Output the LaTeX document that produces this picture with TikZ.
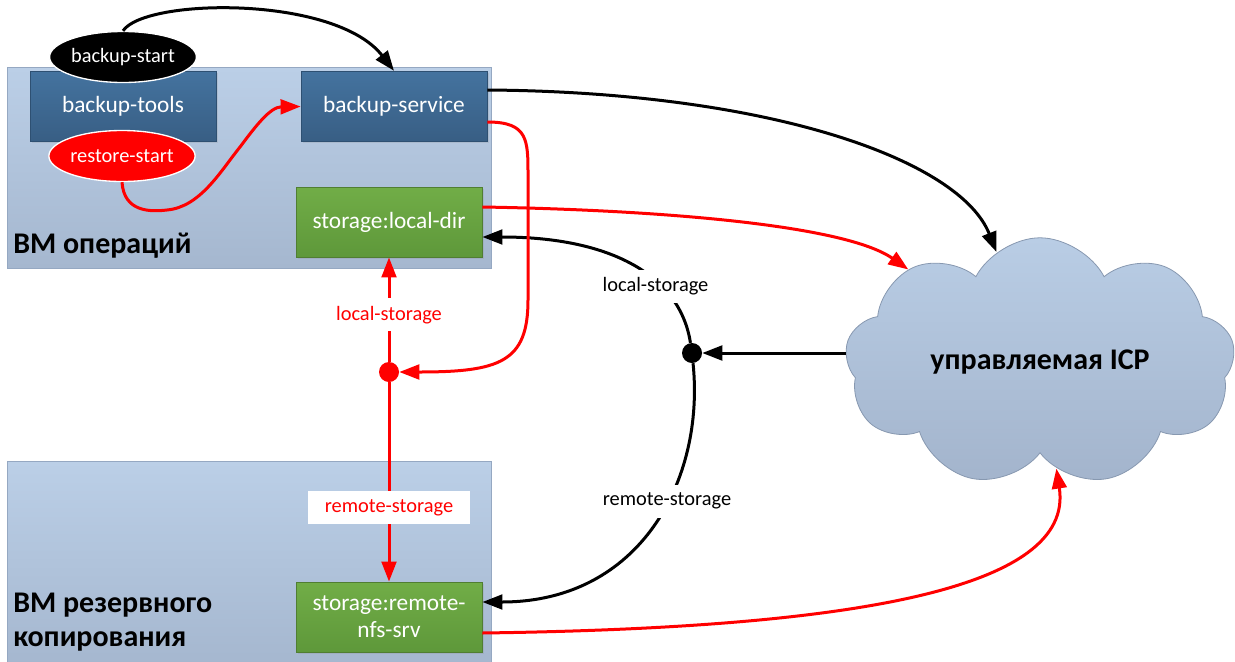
\documentclass[tikz,border=0pt]{standalone}
\usepackage{fontspec}
\setmainfont{Carlito}
\usetikzlibrary{shapes.symbols,shapes.geometric,arrows.meta,shadows,calc}

\definecolor{grptop}{HTML}{BBCFE7}
\definecolor{grpbot}{HTML}{A5B7CF}
\definecolor{grpedge}{HTML}{95A8C2}
\definecolor{svctop}{HTML}{44739F}
\definecolor{svcbot}{HTML}{385E84}
\definecolor{svcedge}{HTML}{2E5072}
\definecolor{stotop}{HTML}{71AD47}
\definecolor{stobot}{HTML}{5E983A}
\definecolor{stoedge}{HTML}{507E32}
\definecolor{cldtop}{HTML}{B9CDE5}
\definecolor{cldbot}{HTML}{A3B4CC}
\definecolor{cldedge}{HTML}{8798B0}

\begin{document}
\begin{tikzpicture}[x=0.75pt,y=-0.75pt,
  group/.style={draw=grpedge, line width=0.75pt, top color=grptop, bottom color=grpbot,
    minimum width=363pt, inner sep=0},
  grouptitle/.style={inner sep=0, font=\fontsize{22.5}{25.5}\selectfont\bfseries},
  boxbase/.style={text=white, font=\fontsize{17.5}{20}\selectfont, align=center,
    minimum width=139.5pt, minimum height=53pt, inner sep=0,
    drop shadow={opacity=0.18, shadow xshift=1.2pt, shadow yshift=-1.2pt}},
  svcbox/.style={boxbase, draw=svcedge, line width=0.6pt, top color=svctop, bottom color=svcbot},
  stobox/.style={boxbase, draw=stoedge, line width=0.6pt, top color=stotop, bottom color=stobot},
  trigger/.style={ellipse, draw=white, line width=1pt, minimum width=103.5pt,
    minimum height=38.25pt, inner sep=0, text=white, font=\fontsize{15.3}{18}\selectfont},
  junction/.style={circle, minimum size=15pt, inner sep=0},
  flow/.style={line width=2.25pt, -{Triangle[length=15pt,width=11pt]}},
  lbl/.style={fill=white, inner xsep=13pt, inner ysep=3pt, minimum height=24.75pt,
    font=\fontsize{15.3}{18}\selectfont},
]
\useasboundingbox (0,0) rectangle (1235,661);

% virtual machines
\node[group, minimum height=150.75pt] (vmops) at (249,167.5) {};
\node[group, minimum height=153pt] (vmbak) at (249,563) {};
\node[grouptitle, anchor=base west] (vmopsT) at (13,253) {ВМ операций};
\node[grouptitle, anchor=north west, align=left] (vmbakT) at (13,593) {ВМ резервного\\копирования};

% services and storages
\node[svcbox] (tools) at (123,106.5) {backup-tools};
\node[svcbox] (svc) at (394,106.5) {backup-service};
\node[stobox, minimum height=52.5pt] (ldir) at (389,222) {storage:local-dir};
\node[stobox, minimum height=52.5pt] (rnfs) at (389,617) {storage:remote-\\nfs-srv};

% triggers
\node[trigger, fill=black] (bstart) at (123,57) {backup-start};
\node[trigger, fill=red] (rstart) at (122,156) {restore-start};

% managed cloud
\node[cloud, cloud puffs=9, cloud puff arc=125, aspect=1.67, draw=cldedge, line width=0.6pt,
  top color=cldtop, bottom color=cldbot, minimum width=292.5pt, minimum height=174.75pt,
  font=\fontsize{22.5}{25}\selectfont\bfseries] (icp) at (1040,362) {управляемая ICP};

% junctions
\node[junction, fill=red] (rdot) at (389,372) {};
\node[junction, fill=black] (bdot) at (692,353) {};

% black flows
\draw[flow] (bstart.north) .. controls (145,-2) and (335,-5) .. (svc.north);
\draw[flow] ($(svc.east)+(0,-16.5)$) .. controls (770,92) and (960,160) .. (icp);
\draw[flow] (bdot -| icp.west) -- (bdot);
\draw[flow] (bdot) .. controls (680,275) and (610,237) .. ($(ldir.east)+(0,15)$);
\draw[flow] (bdot) .. controls (705,480) and (640,602) .. ($(rnfs.east)+(0,-15)$);

% red flows
\draw[flow, red] (rstart.south) .. controls (124,212) and (150,212) .. (167,210)
  .. controls (200,207) and (220,172) .. (240,147)
  .. controls (255,127) and (270,107) .. (svc.west);
\draw[flow, red] ($(svc.east)+(0,15.5)$) .. controls (528,122) and (528,140) .. (528,175)
  -- (528,300) .. controls (528,362) and (500,372) .. (rdot);
\draw[flow, red] (rdot) -- (ldir) node[lbl, text=red, pos=0.45] (lloc) {local-storage};
\draw[flow, red] (rdot) -- (rnfs) node[lbl, text=red, pos=0.63] (lrem) {remote-storage};
\draw[flow, red] ($(ldir.east)+(0,-15)$) .. controls (660,210) and (845,225) .. (icp);
\draw[flow, red] ($(rnfs.east)+(0,16)$) .. controls (850,628) and (1075,590) .. (icp);

% labels on the black branches
\node[lbl, inner xsep=2pt] (bloc) at (655.5,286) {local-storage};
\node[lbl, inner xsep=2pt] (brem) at (667,501) {remote-storage};
\end{tikzpicture}
\end{document}
